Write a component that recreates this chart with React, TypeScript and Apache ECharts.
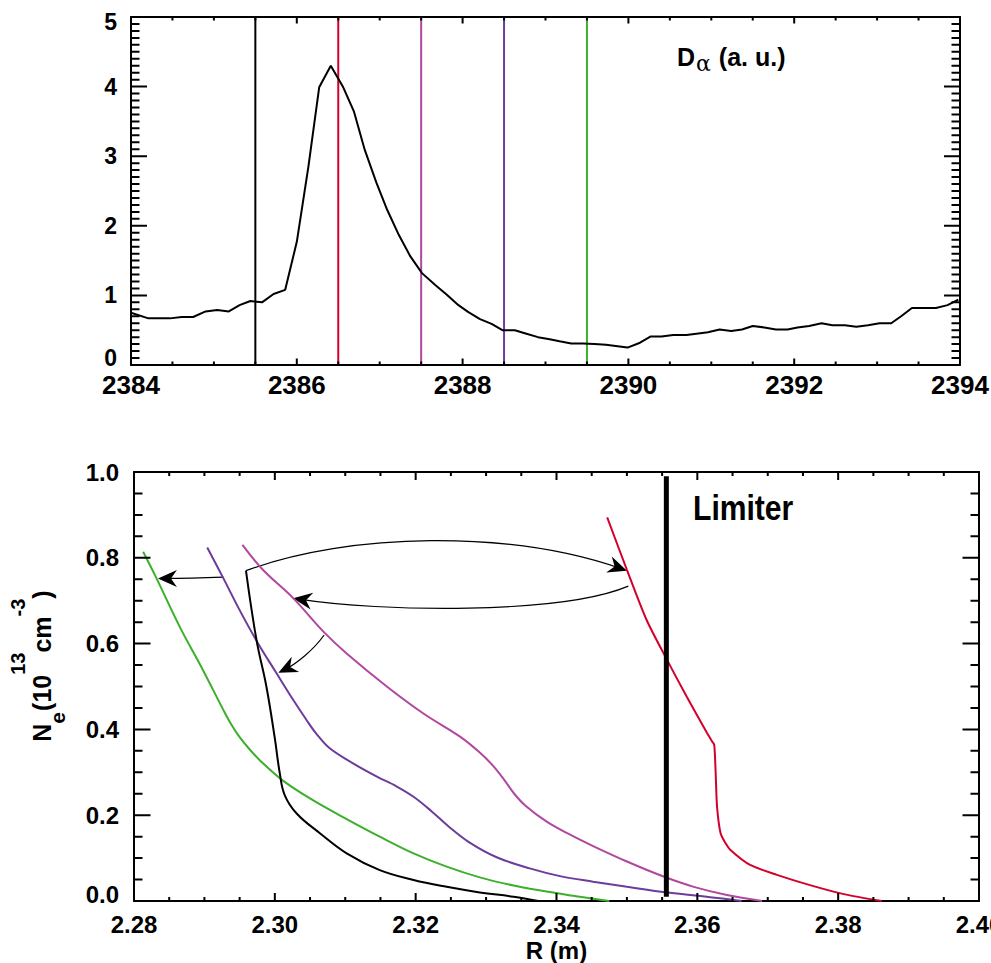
import React, { useEffect, useRef } from 'react';
import * as echarts from 'echarts';

const FONT = '"Liberation Sans", Arial, Helvetica, sans-serif';

// ---------- Top panel: D-alpha time trace ----------
const dalphaTime = [
  2384.0, 2384.21, 2384.47, 2384.61, 2384.75, 2384.9, 2385.04, 2385.18, 2385.31, 2385.44,
  2385.58, 2385.72, 2385.86, 2386.0, 2386.14, 2386.27, 2386.41, 2386.56, 2386.69, 2386.82,
  2386.96, 2387.09, 2387.23, 2387.37, 2387.51, 2387.67, 2387.81, 2387.95, 2388.07, 2388.21,
  2388.35, 2388.48, 2388.63, 2388.77, 2388.91, 2389.05, 2389.17, 2389.31, 2389.45, 2389.59,
  2389.73, 2389.87, 2389.99, 2390.14, 2390.27, 2390.4, 2390.54, 2390.7, 2390.82, 2390.96,
  2391.1, 2391.24, 2391.37, 2391.5, 2391.64, 2391.78, 2391.92, 2392.04, 2392.18, 2392.33,
  2392.46, 2392.61, 2392.75, 2392.89, 2393.03, 2393.17, 2393.29, 2393.42, 2393.57, 2393.71,
  2393.85, 2393.98,
];
const dalphaValue = [
  0.75, 0.67, 0.67, 0.69, 0.69, 0.77, 0.79, 0.77, 0.86, 0.92,
  0.9, 1.02, 1.08, 1.77, 2.85, 3.99, 4.3, 3.99, 3.64, 3.09,
  2.62, 2.23, 1.87, 1.56, 1.32, 1.15, 1.01, 0.86, 0.76, 0.66,
  0.59, 0.5, 0.5, 0.45, 0.4, 0.37, 0.34, 0.31, 0.31, 0.3,
  0.29, 0.27, 0.25, 0.32, 0.41, 0.41, 0.43, 0.43, 0.45, 0.47,
  0.51, 0.49, 0.51, 0.56, 0.54, 0.51, 0.51, 0.54, 0.56, 0.6,
  0.57, 0.57, 0.55, 0.57, 0.6, 0.6, 0.7, 0.82, 0.82, 0.82,
  0.86, 0.94,
];
const markerTimes = [2385.5, 2386.5, 2387.5, 2388.5, 2389.5];
const markerColors = ['#000000', '#d4002c', '#b0489e', '#6c3c9c', '#3caf2c'];

// ---------- Bottom panel: density profiles ----------
const rBlack = [2.2959, 2.2974, 2.2988, 2.3, 2.3007, 2.3014, 2.3031, 2.3064, 2.3102, 2.3149, 2.3197, 2.3244, 2.3291, 2.3339, 2.3374];
const neBlack = [0.77, 0.608, 0.5, 0.379, 0.298, 0.247, 0.204, 0.158, 0.111, 0.072, 0.049, 0.033, 0.02, 0.01, 0.0];

const rRed = [2.3472, 2.35, 2.3528, 2.3557, 2.3585, 2.3614, 2.3621, 2.3624, 2.3626, 2.3628, 2.3633, 2.364, 2.3647, 2.3675, 2.3713, 2.376, 2.3808, 2.3862];
const neRed = [0.894, 0.772, 0.655, 0.562, 0.476, 0.391, 0.372, 0.364, 0.3, 0.22, 0.158, 0.135, 0.119, 0.084, 0.061, 0.037, 0.016, 0.0];

const rMagenta = [2.2954, 2.2983, 2.3026, 2.3069, 2.3102, 2.3159, 2.3211, 2.3263, 2.3291, 2.331, 2.3325, 2.334, 2.3356, 2.3386, 2.342, 2.3452, 2.35, 2.3552, 2.3595, 2.3642, 2.3692];
const neMagenta = [0.83, 0.772, 0.706, 0.628, 0.577, 0.5, 0.437, 0.383, 0.346, 0.315, 0.284, 0.25, 0.222, 0.185, 0.154, 0.128, 0.092, 0.057, 0.033, 0.014, 0.0];

const rPurple = [2.2904, 2.2927, 2.295, 2.2976, 2.3002, 2.3026, 2.3045, 2.3058, 2.3078, 2.3111, 2.3145, 2.3172, 2.3197, 2.3222, 2.3248, 2.3275, 2.3315, 2.3362, 2.3405, 2.3452, 2.35, 2.3561, 2.3618, 2.3663];
const nePurple = [0.824, 0.752, 0.678, 0.601, 0.532, 0.469, 0.422, 0.392, 0.356, 0.321, 0.29, 0.268, 0.243, 0.21, 0.172, 0.138, 0.102, 0.076, 0.058, 0.045, 0.033, 0.019, 0.009, 0.0];

const rGreen = [2.2813, 2.2832, 2.2865, 2.2898, 2.2927, 2.2938, 2.295, 2.2965, 2.298, 2.3012, 2.3054, 2.3102, 2.3149, 2.3197, 2.3244, 2.3291, 2.3339, 2.3386, 2.342, 2.345, 2.3475];
const neGreen = [0.814, 0.752, 0.639, 0.538, 0.445, 0.412, 0.382, 0.352, 0.326, 0.28, 0.235, 0.191, 0.15, 0.111, 0.08, 0.055, 0.036, 0.022, 0.013, 0.006, 0.0];

const limiterR = 2.3556;
const limiterSpan = [0.01, 0.99];

// arrows: [startR, startNe, cp1R, cp1Ne, cp2R, cp2Ne, endR, endNe]
const arrowPaths = [
  [2.2959, 0.77, 2.3107, 0.86, 2.3334, 0.865, 2.35, 0.77],
  [2.3502, 0.734, 2.3405, 0.667, 2.3149, 0.674, 2.3026, 0.706],
  [2.2927, 0.755, 2.2895, 0.753, 2.2865, 0.752, 2.2834, 0.752],
  [2.307, 0.62, 2.3055, 0.585, 2.303, 0.552, 2.3005, 0.532],
];

// ---------- Axis ranges and tick steps ----------
const topX = { min: 2384, max: 2394, major: 2, minor: 0.5 };
const topY = { min: 0, max: 5, major: 1, minor: 0.1 };
const botX = { min: 2.28, max: 2.4, major: 0.02, minor: 0.005 };
const botY = { min: 0, max: 1, major: 0.2, minor: 0.05 };

// plot boxes (pixels)
const topBox = { left: 131, top: 17, width: 829, height: 348 };
const botBox = { left: 134, top: 472, width: 845, height: 429 };

const zip = (xs: number[], ys: number[]) => xs.map((x, i) => [x, ys[i]]);

function tickList(ax: { min: number; max: number; major: number; minor: number }) {
  const out: { v: number; major: boolean }[] = [];
  const n = Math.round((ax.max - ax.min) / ax.minor);
  const per = Math.round(ax.major / ax.minor);
  for (let i = 0; i <= n; i++) out.push({ v: +(ax.min + i * ax.minor).toFixed(6), major: i % per === 0 });
  return out;
}

// inward tick segments on all four sides, as one broken line series (lengths given in pixels)
function tickSegments(xa: any, ya: any, box: any, xLen: [number, number], yLen: [number, number]) {
  const ux = (xa.max - xa.min) / box.width; // data units per pixel
  const uy = (ya.max - ya.min) / box.height;
  const d: any[] = [];
  tickList(xa).forEach((t) => {
    const l = (t.major ? xLen[0] : xLen[1]) * uy;
    d.push([t.v, ya.min], [t.v, ya.min + l], [t.v, null]);
    d.push([t.v, ya.max], [t.v, ya.max - l], [t.v, null]);
  });
  tickList(ya).forEach((t) => {
    const l = (t.major ? yLen[0] : yLen[1]) * ux;
    d.push([xa.min, t.v], [xa.min + l, t.v], [null, t.v]);
    d.push([xa.max, t.v], [xa.max - l, t.v], [null, t.v]);
  });
  return d;
}

type AxisOpt = {
  grid: number; pos: string; ax: any; label?: boolean; fmt?: (v: number) => string; fs?: number; margin?: number;
  name?: string; nameGap?: number; rich?: any;
};

function axisCfg(o: AxisOpt): any {
  const axisLabel: any = o.label
    ? { show: true, formatter: o.fmt, fontSize: o.fs, fontWeight: 'bold', fontFamily: FONT, color: '#000', margin: o.margin, rich: o.rich }
    : { show: false };
  return {
    type: 'value',
    gridIndex: o.grid,
    position: o.pos,
    min: o.ax.min,
    max: o.ax.max,
    interval: o.ax.major,
    axisLine: { show: true, onZero: false, lineStyle: { color: '#000', width: 2 } },
    axisTick: { show: false },
    minorTick: { show: false },
    splitLine: { show: false },
    minorSplitLine: { show: false },
    axisLabel,
    name: o.name || '',
    nameLocation: 'middle',
    nameGap: o.nameGap || 0,
    nameTextStyle: { fontSize: 24, fontWeight: 'bold', fontFamily: FONT, color: '#000' },
  };
}

const richShift = (fs: number) => ({
  lo: { fontSize: fs, fontWeight: 'bold', fontFamily: FONT, color: '#000', padding: [0, 0, 14, 0] },
  hi: { fontSize: fs, fontWeight: 'bold', fontFamily: FONT, color: '#000', padding: [10, 0, 0, 0] },
});

const textGraphics: any[] = [
  {
    type: 'text', x: 677, y: 44, silent: true,
    style: {
      text: '{d|D}{a|α}{d| (a. u.)}',
      align: 'left', verticalAlign: 'top', fill: '#000',
      rich: {
        d: { fontSize: 25, fontWeight: 'bold', fontFamily: FONT, lineHeight: 25, verticalAlign: 'top', padding: [0, 0, 0, 0], fill: '#000' },
        a: { fontSize: 22, fontFamily: '"DejaVu Serif", "Liberation Serif", serif', lineHeight: 22, verticalAlign: 'top', padding: [8, 1, 0, 1], fill: '#000' },
      },
    },
  },
  {
    type: 'text', x: 693, y: 508, scaleX: 0.86, silent: true,
    style: { text: 'Limiter', fontSize: 35, fontWeight: 'bold', fontFamily: FONT, fill: '#000', align: 'left', verticalAlign: 'middle' },
  },
  {
    type: 'text', x: 20, y: 666, rotation: Math.PI / 2, silent: true,
    style: {
      text: '{n|N}{e|e}{n|(10}{s|13}{n|cm}{s|-3}{n|)}',
      align: 'center', verticalAlign: 'middle', fill: '#000',
      rich: {
        n: { fontSize: 25, fontWeight: 'bold', fontFamily: FONT, lineHeight: 25, verticalAlign: 'top', padding: [22, 0, 0, 0], fill: '#000' },
        s: { fontSize: 20, fontWeight: 'bold', fontFamily: FONT, lineHeight: 20, verticalAlign: 'top', padding: [0, 0, 0, 0], fill: '#000' },
        e: { fontSize: 21, fontWeight: 'bold', fontFamily: FONT, lineHeight: 21, verticalAlign: 'top', padding: [39, 1, 0, 0], fill: '#000' },
      },
    },
  },
];

function buildOption(): any {
  const series: any[] = [];
  markerTimes.forEach((t, i) => {
    series.push({
      type: 'line', xAxisIndex: 0, yAxisIndex: 0, silent: true, showSymbol: false,
      data: [[t, topY.min], [t, topY.max]],
      lineStyle: { color: markerColors[i], width: 2 },
    });
  });
  series.push({
    type: 'line', xAxisIndex: 0, yAxisIndex: 0, silent: true, showSymbol: false,
    data: zip(dalphaTime, dalphaValue),
    lineStyle: { color: '#000', width: 2 },
  });

  const profiles: [number[], number[], string, number][] = [
    [rGreen, neGreen, markerColors[4], 0.35],
    [rPurple, nePurple, markerColors[3], 0.35],
    [rMagenta, neMagenta, markerColors[2], 0.35],
    [rBlack, neBlack, markerColors[0], 0.4],
    [rRed, neRed, markerColors[1], 0.25],
  ];
  profiles.forEach(([xs, ys, c, sm]) => {
    series.push({
      type: 'line', xAxisIndex: 2, yAxisIndex: 2, silent: true, showSymbol: false,
      smooth: sm,
      data: zip(xs, ys),
      lineStyle: { color: c, width: 2 },
    });
  });
  series.push({
    type: 'line', xAxisIndex: 2, yAxisIndex: 2, silent: true, showSymbol: false,
    data: [[limiterR, limiterSpan[0]], [limiterR, limiterSpan[1]]],
    lineStyle: { color: '#000', width: 5, cap: 'butt' },
  });
  series.push({
    type: 'custom', xAxisIndex: 2, yAxisIndex: 2, silent: true,
    data: arrowPaths,
    renderItem: (params: any, api: any) => {
      const p0 = api.coord([api.value(0), api.value(1)]);
      const c1 = api.coord([api.value(2), api.value(3)]);
      const c2 = api.coord([api.value(4), api.value(5)]);
      const p1 = api.coord([api.value(6), api.value(7)]);
      let dx = p1[0] - c2[0];
      let dy = p1[1] - c2[1];
      const len = Math.sqrt(dx * dx + dy * dy) || 1;
      dx /= len; dy /= len;
      const nx = -dy, ny = dx;
      const L = 19, W = 8.5, N = 13;
      const head = [
        [p1[0], p1[1]],
        [p1[0] - L * dx + W * nx, p1[1] - L * dy + W * ny],
        [p1[0] - N * dx, p1[1] - N * dy],
        [p1[0] - L * dx - W * nx, p1[1] - L * dy - W * ny],
      ];
      return {
        type: 'group',
        children: [
          {
            type: 'bezierCurve',
            shape: { x1: p0[0], y1: p0[1], cpx1: c1[0], cpy1: c1[1], cpx2: c2[0], cpy2: c2[1], x2: p1[0] - 6 * dx, y2: p1[1] - 6 * dy },
            style: { stroke: '#000', lineWidth: 1.2, fill: null },
          },
          { type: 'polygon', shape: { points: head }, style: { fill: '#000', stroke: null } },
        ],
      };
    },
  });
  // inward tick marks of both plot boxes
  series.push({
    type: 'line', xAxisIndex: 0, yAxisIndex: 0, silent: true, showSymbol: false, connectNulls: false, z: 10,
    data: tickSegments(topX, topY, topBox, [6.5, 3.5], [16, 8.5]),
    lineStyle: { color: '#000', width: 2, cap: 'butt' },
  });
  series.push({
    type: 'line', xAxisIndex: 2, yAxisIndex: 2, silent: true, showSymbol: false, connectNulls: false, z: 10,
    data: tickSegments(botX, botY, botBox, [8, 4], [16.5, 8.5]),
    lineStyle: { color: '#000', width: 2, cap: 'butt' },
  });

  return {
    animation: false,
    backgroundColor: '#ffffff',
    grid: [
      { ...topBox, outerBoundsMode: 'none', containLabel: false },
      { ...botBox, outerBoundsMode: 'none', containLabel: false },
    ],
    xAxis: [
      axisCfg({ grid: 0, pos: 'bottom', ax: topX, label: true, fmt: (v) => String(Math.round(v)), fs: 26, margin: 7 }),
      axisCfg({ grid: 0, pos: 'top', ax: topX }),
      axisCfg({ grid: 1, pos: 'bottom', ax: botX, label: true, fmt: (v) => v.toFixed(2), fs: 24, margin: 11, name: 'R (m)', nameGap: 37 }),
      axisCfg({ grid: 1, pos: 'top', ax: botX }),
    ],
    yAxis: [
      axisCfg({
        grid: 0, pos: 'left', ax: topY, label: true,
        fmt: (v) => (v === 0 ? '{lo|0}' : v === 5 ? '{hi|5}' : String(Math.round(v))), fs: 23, margin: 14, rich: richShift(23),
      }),
      axisCfg({ grid: 0, pos: 'right', ax: topY }),
      axisCfg({
        grid: 1, pos: 'left', ax: botY, label: true,
        fmt: (v) => (v === 0 ? '{lo|0.0}' : v.toFixed(1)), fs: 24, margin: 15, rich: richShift(24),
      }),
      axisCfg({ grid: 1, pos: 'right', ax: botY }),
    ],
    series,
    graphic: textGraphics,
  };
}

export default function App() {
  const ref = useRef<HTMLDivElement>(null);
  useEffect(() => {
    if (!ref.current) return;
    const chart = echarts.init(ref.current, undefined, { renderer: 'svg' });
    chart.setOption(buildOption());
    return () => chart.dispose();
  }, []);
  return (
    <div
      ref={ref}
      style={{ position: 'absolute', left: 0, top: 0, width: 991, height: 963, background: '#fff' }}
    />
  );
}
